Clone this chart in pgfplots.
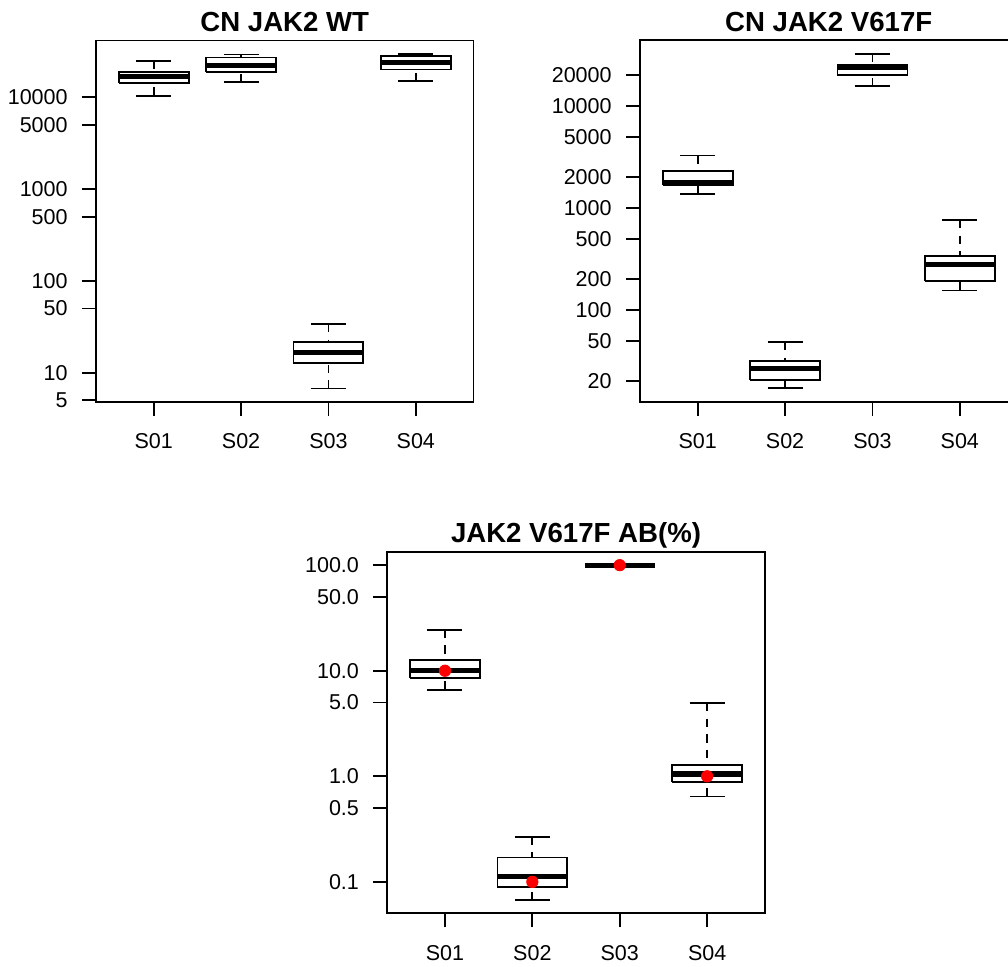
\documentclass[border=0pt]{standalone}
\usepackage{pgfplots}
\pgfplotsset{compat=1.18}
\usepackage{fontspec}
\setmainfont{Liberation Sans}

\tikzset{
  whisk/.style={black, line width=0.9pt, dash pattern=on 4.2pt off 3.6pt},
  capl/.style={black, line width=0.9pt},
  boxl/.style={black, line width=0.9pt, fill=white, line join=miter},
  medl/.style={black, line width=2.6pt, line cap=butt},
}

% one box: position, lower whisker, lower quartile, median, upper quartile, upper whisker
\newcommand{\bxp}[6]{%
  \pgfmathsetmacro{\bxL}{#1-0.4}\pgfmathsetmacro{\bxR}{#1+0.4}%
  \pgfmathsetmacro{\bcL}{#1-0.2}\pgfmathsetmacro{\bcR}{#1+0.2}%
  \addplot[whisk, mark=none] coordinates {(#1,#2) (#1,#3)};
  \addplot[whisk, mark=none] coordinates {(#1,#6) (#1,#5)};
  \addplot[capl, mark=none] coordinates {(\bcL,#2) (\bcR,#2)};
  \addplot[capl, mark=none] coordinates {(\bcL,#6) (\bcR,#6)};
  \addplot[boxl, mark=none] coordinates {(\bxL,#3) (\bxR,#3) (\bxR,#5) (\bxL,#5) (\bxL,#3)};
  \addplot[medl, mark=none] coordinates {(\bxL,#4) (\bxR,#4)};
}

\pgfplotsset{every axis/.append style={
    scale only axis, width=188.75pt, height=180.75pt,
    xmin=0.34, xmax=4.66,
    xtick={1,2,3,4}, xticklabels={S01,S02,S03,S04},
    axis line style={line width=0.9pt, black},
    tick style={line width=0.9pt, black},
    tick align=outside, major tick length=7pt,
    xtick pos=bottom, ytick pos=left,
    ticklabel style={font=\fontsize{10.75}{13}\selectfont},
    yticklabel style={inner sep=0pt, anchor=east, xshift=-7pt},
    xticklabel style={inner sep=0pt, anchor=base, yshift=-16.4pt},
    title style={font=\bfseries\fontsize{13.8}{16}\selectfont, anchor=base, yshift=-1.6pt},
  }}

\begin{document}
\begin{tikzpicture}
\useasboundingbox (0,0) rectangle (504pt,483.5pt);

% ---------- CN JAK2 WT ----------
\begin{axis}[ymode=log, at={(48pt,282.5pt)}, anchor=south west,
  title={CN JAK2 WT},
  ymin=4.786, ymax=41590,
  ytick={5,10,50,100,500,1000,5000,10000},
  yticklabels={5,10,50,100,500,1000,5000,10000},
  yminorticks=false]
\bxp{1}{10360}{14350}{16960}{18700}{24950}
\bxp{2}{14580}{18920}{22340}{27110}{29240}
\bxp{3}{6.70}{12.8}{16.5}{21.4}{33.9}
\bxp{4}{14930}{20050}{23720}{27990}{29720}
\end{axis}

% ---------- CN JAK2 V617F ----------
\begin{axis}[ymode=log, at={(320pt,282.65pt)}, anchor=south west,
  title={CN JAK2 V617F},
  ymin=12.61, ymax=44190,
  ytick={20,50,100,200,500,1000,2000,5000,10000,20000},
  yticklabels={20,50,100,200,500,1000,2000,5000,10000,20000},
  yminorticks=false]
\bxp{1}{1383}{1670}{1787}{2310}{3270}
\bxp{2}{17.1}{20.5}{26.6}{31.4}{48.5}
\bxp{3}{15600}{20000}{24100}{25500}{32400}
\bxp{4}{155}{191}{279}{336}{762}
\end{axis}

% ---------- JAK2 V617F AB(%) ----------
\begin{axis}[ymode=log, at={(193.65pt,26.85pt)}, anchor=south west,
  title={JAK2 V617F AB(\%)},
  ymin=0.0504, ymax=133.9,
  ytick={0.1,0.5,1,5,10,50,100},
  yticklabels={0.1,0.5,1.0,5.0,10.0,50.0,100.0},
  yminorticks=false]
\bxp{1}{6.6}{8.47}{10.1}{12.6}{24.4}
\bxp{2}{0.0673}{0.0889}{0.1125}{0.170}{0.267}
\bxp{3}{100}{100}{100}{100}{100}
\bxp{4}{0.644}{0.88}{1.05}{1.285}{4.94}
\addplot[only marks, mark=*, mark size=2.85pt, color=red] coordinates {(1,10) (2,0.1) (3,100) (4,1)};
\end{axis}
\end{tikzpicture}
\end{document}
